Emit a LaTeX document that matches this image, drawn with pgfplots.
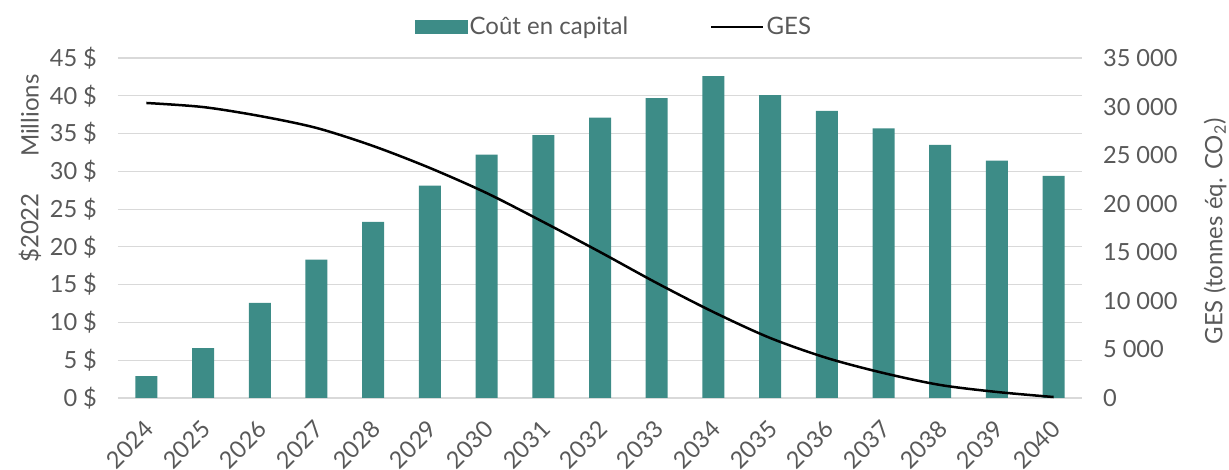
\documentclass[border=0pt]{standalone}
\usepackage{fontspec}
\setmainfont{Lato}
\usepackage{pgfplots}
\pgfplotsset{compat=1.18}
\definecolor{barcol}{RGB}{61,140,135}
\definecolor{txt}{RGB}{89,89,89}
\definecolor{gridc}{RGB}{217,217,217}
\begin{document}
\begin{tikzpicture}
\pgfplotsset{
  common/.style={
    scale only axis, width=482pt, height=170pt,
    xmin=-0.5, xmax=16.5,
    major tick length=0pt,
    scaled y ticks=false,
    tick label style={txt, font=\fontsize{11.8}{13}\selectfont},
    label style={txt, font=\fontsize{12}{14}\selectfont},
  }
}
\begin{axis}[common, name=ax,
  ymin=0, ymax=45,
  ytick={0,5,...,45},
  yticklabels={0 \$,5 \$,10 \$,15 \$,20 \$,25 \$,30 \$,35 \$,40 \$,45 \$},
  yticklabel style={xshift=-7pt},
  xtick={0,...,16},
  xticklabels={2024,2025,2026,2027,2028,2029,2030,2031,2032,2033,2034,2035,2036,2037,2038,2039,2040},
  xticklabel style={rotate=45, anchor=north east, inner sep=0.5pt, xshift=-8pt, yshift=-5.6pt},
  axis x line*=bottom, axis y line*=left,
  y axis line style={draw=none},
  x axis line style={gridc, line width=0.8pt},
  ymajorgrids, grid style={gridc, line width=0.6pt},
  ybar, bar width=11pt,
  ylabel={\$2022},
  ylabel style={at={(axis description cs:-0.0913,0.5)}, anchor=center, rotate=0},
  clip=false,
]
\addplot[fill=barcol, draw=none] coordinates {
(0,2.9) (1,6.6) (2,12.6) (3,18.3) (4,23.3) (5,28.1) (6,32.2) (7,34.8) (8,37.1)
(9,39.7) (10,42.6) (11,40.1) (12,38.0) (13,35.7) (14,33.5) (15,31.4) (16,29.4)};
\node[txt, font=\fontsize{12}{14}\selectfont, rotate=90, anchor=center] at (axis description cs:-0.0913,0.83) {Millions};
\end{axis}
\begin{axis}[common,
  ymin=0, ymax=35000,
  axis y line*=right, axis x line=none,
  y axis line style={draw=none},
  ytick={0,5000,...,35000},
  yticklabels={0,5 000,10 000,15 000,20 000,25 000,30 000,35 000},
  yticklabel style={anchor=west, xshift=7pt},
  ylabel={GES (tonnes éq. CO\textsubscript{2})},
  ylabel style={at={(axis description cs:1.138,0.49)}, anchor=center, rotate=0},
  legend style={at={(axis description cs:0.5145,1)}, anchor=center, yshift=15.5pt,
    draw=none, fill=none, legend columns=2,
    font=\fontsize{12}{14}\selectfont, text=txt,
    /tikz/every even column/.append style={column sep=40pt},
    nodes={inner xsep=1pt}},
  clip=false,
]
\addlegendimage{legend image code/.code={\fill[barcol] (0pt,-3.3pt) rectangle (26pt,3.3pt);}}
\addlegendentry{Coût en capital}
\addplot[black, line width=1.25pt, smooth, mark=none,
  legend image code/.code={\draw[black,line width=1.25pt] (0pt,0pt) -- (26pt,0pt);}] coordinates {
(0,30370) (1,29950) (2,29030) (3,27800) (4,25940) (5,23680) (6,21100) (7,18120) (8,15030)
(9,11840) (10,8850) (11,6180) (12,4120) (13,2570) (14,1340) (15,620) (16,100)};
\addlegendentry{GES}
\end{axis}
\pgfresetboundingbox
\path ([xshift=-59pt,yshift=-36pt]ax.south west) rectangle ([xshift=73.5pt,yshift=29pt]ax.north east);
\end{tikzpicture}
\end{document}
